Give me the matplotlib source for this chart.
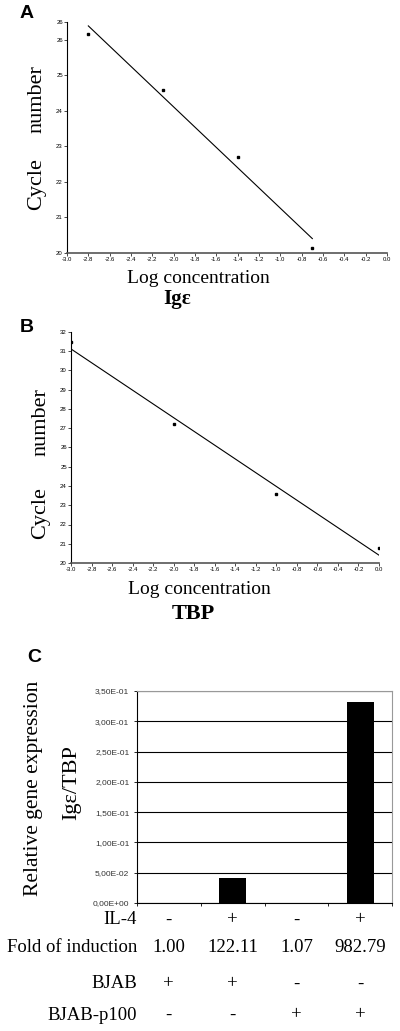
import matplotlib
matplotlib.use("Agg")
import matplotlib.pyplot as plt
import numpy as np
from matplotlib.transforms import blended_transform_factory

# panel A: Ige standard curve
ige_logc = [-2.8, -2.1, -1.4, -0.7]
ige_cycle = [26.16, 24.59, 22.70, 20.14]

# panel B: TBP standard curve
tbp_logc = [-3.0, -2.0, -1.0, 0.0]
tbp_cycle = [31.47, 27.22, 23.58, 20.78]

# panel C: relative expression
expr = [3.38e-4, 4.13e-2, 3.62e-4, 3.32e-1]
il4 = ["-", "+", "-", "+"]
fold = ["1.00", "122.11", "1.07", "982.79"]
bjab = ["+", "+", "-", "-"]
bjab_p100 = ["-", "-", "+", "+"]
c_yticks = [0.0, 0.05, 0.10, 0.15, 0.20, 0.25, 0.30, 0.35]
c_ylabels = ["0,00E+00", "5,00E-02", "1,00E-01", "1,50E-01",
             "2,00E-01", "2,50E-01", "3,00E-01", "3,50E-01"]

serif = "Liberation Serif"
sans = "Liberation Sans"
W, H = 400, 1031

fig = plt.figure(figsize=(4, 10.31), dpi=100)


def fpos(l, t, r, b):
    return [l / W, 1 - b / H, (r - l) / W, (b - t) / H]


def curve_panel(rect, x, y, ylim, yticks, ylabels):
    ax = fig.add_axes(rect)
    ax.plot(x, y, "s", color="black", ms=1.7)
    k, c = np.polyfit(x, y, 1)
    xs = np.array([min(x), max(x)])
    ax.plot(xs, k * xs + c, color="black", lw=0.8)
    ax.set_xlim(-3.0, 0.0)
    ax.set_ylim(*ylim)
    xt = np.round(np.arange(-3.0, 0.01, 0.2), 1)
    ax.set_xticks(xt)
    ax.set_xticklabels(["%.1f" % v if v != 0 else "0.0" for v in xt])
    ax.set_yticks(yticks)
    ax.set_yticklabels(ylabels)
    for s in ["top", "right"]:
        ax.spines[s].set_visible(False)
    ax.spines["left"].set_linewidth(0.8)
    ax.spines["bottom"].set_linewidth(1.2)
    ax.spines["bottom"].set_color("#555555")
    ax.tick_params(labelsize=4.3, length=2, width=0.5, pad=1)
    for lab in ax.get_xticklabels() + ax.get_yticklabels():
        lab.set_family(sans)
    return ax


axA = curve_panel(fpos(67, 22, 387, 253), ige_logc, ige_cycle, (20, 26.5),
                  [20, 21, 22, 23, 24, 25, 26, 26.5],
                  ["20", "21", "22", "23", "24", "25", "26", "26"])
axB = curve_panel(fpos(71, 332, 379, 563), tbp_logc, tbp_cycle, (20, 32),
                  list(range(20, 33)), [str(v) for v in range(20, 33)])

# text for panels A and B
fig.text(20 / W, 1 - 14 / H, "A", family=sans, weight="bold", fontsize=14,
         ha="left", va="center")
fig.text(37 / W, 1 - 99 / H, "number", family=serif, fontsize=16,
         rotation=90, ha="center", va="center")
fig.text(37 / W, 1 - 184 / H, "Cycle", family=serif, fontsize=16,
         rotation=90, ha="center", va="center")
fig.text(198 / W, 1 - 279 / H, "Log concentration", family=serif,
         fontsize=14, ha="center", va="center")
fig.text(177 / W, 1 - 299 / H, "Igε", family=serif, weight="bold",
         fontsize=15, ha="center", va="center")

fig.text(20 / W, 1 - 327 / H, "B", family=sans, weight="bold", fontsize=14,
         ha="left", va="center")
fig.text(41 / W, 1 - 422 / H, "number", family=serif, fontsize=16,
         rotation=90, ha="center", va="center")
fig.text(41 / W, 1 - 513 / H, "Cycle", family=serif, fontsize=16,
         rotation=90, ha="center", va="center")
fig.text(199 / W, 1 - 590 / H, "Log concentration", family=serif,
         fontsize=14, ha="center", va="center")
fig.text(193 / W, 1 - 614 / H, "TBP", family=serif, weight="bold",
         fontsize=16, ha="center", va="center")

# panel C
axC = fig.add_axes(fpos(137, 691, 392, 903))
pos = np.arange(len(expr)) + 0.5
axC.bar(pos, expr, width=0.42, color="black", zorder=3)
axC.set_xlim(0, 4)
axC.set_ylim(0, 0.35)
axC.set_yticks(c_yticks)
axC.set_yticklabels(c_ylabels, family=sans, fontsize=6, color="#333333")
axC.set_xticks([0, 1, 2, 3, 4])
axC.set_xticklabels([])
axC.yaxis.grid(True, color="black", lw=0.8, zorder=0)
axC.spines["top"].set_color("#999999")
axC.spines["right"].set_color("#999999")
axC.tick_params(length=2.5, width=0.6, pad=3)

fig.text(27 / W, 1 - 658 / H, "C", family=sans, weight="bold", fontsize=14,
         ha="left", va="center")
fig.text(34 / W, 1 - 788 / H, "Relative gene expression", family=serif,
         fontsize=15.5, rotation=90, ha="center", va="center")
fig.text(72 / W, 1 - 783 / H, "Igε/TBP", family=serif, fontsize=16,
         rotation=90, ha="center", va="center")

tr = blended_transform_factory(axC.transData, fig.transFigure)
rows = [("IL-4", il4, 920), ("Fold of induction", fold, 947),
        ("BJAB", bjab, 984), ("BJAB-p100", bjab_p100, 1015)]
for name, vals, ypx in rows:
    fig.text(137 / W, 1 - ypx / H, name, family=serif, fontsize=13.5,
             ha="right", va="center")
    for p, v in zip(pos, vals):
        axC.text(p, 1 - ypx / H, v, transform=tr, family=serif,
                 fontsize=13.5, ha="center", va="center")

fig.savefig("out.png", dpi=100)
